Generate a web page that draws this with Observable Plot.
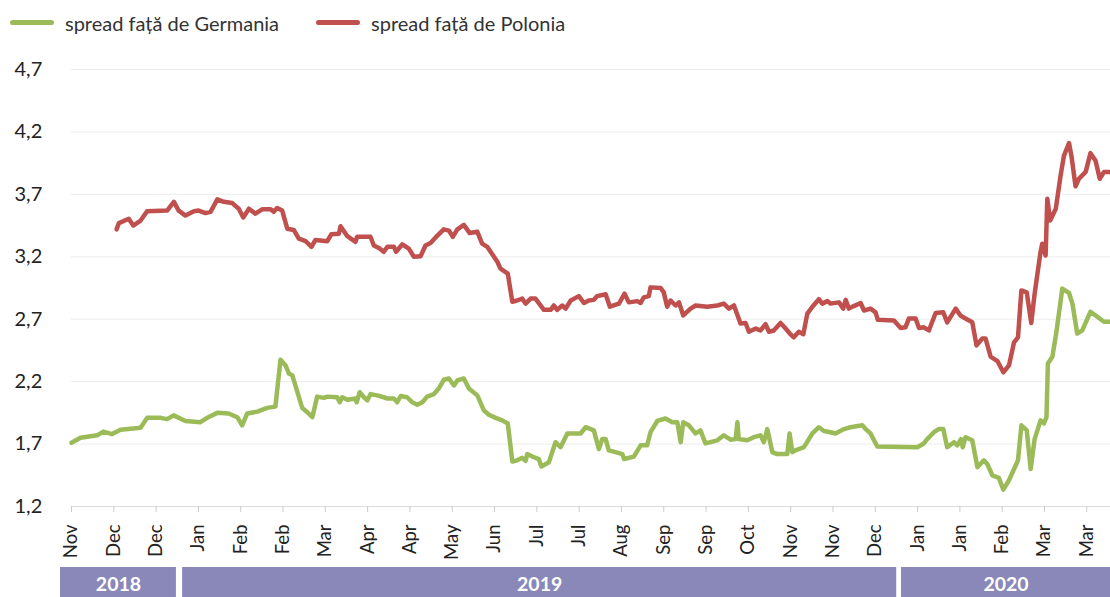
<!DOCTYPE html>
<html><head><meta charset="utf-8">
<script src="https://cdn.jsdelivr.net/npm/d3@7"></script>
<script src="https://cdn.jsdelivr.net/npm/@observablehq/plot@0.6"></script>
<style>
body{margin:0;background:#fff;font-family:Lato,"Noto Sans",sans-serif;color:#333;}
#legend{height:48px;display:flex;align-items:center;padding-left:10px;font-size:20px;box-sizing:border-box;padding-bottom:3px;}
.sw{display:inline-block;width:44px;height:5px;border-radius:3px;margin-right:11px;}
.item{display:flex;align-items:center;margin-right:37px;}
svg{display:block;}
</style></head><body>
<div id="legend"></div>
<div id="chart"></div>
<div id="years"></div>
<script>
// tick labels (every 15 trading days)
const tickLabels = ["Nov","Dec","Dec","Jan","Feb","Feb","Mar","Apr","Apr","May","Jun","Jul","Jul","Aug","Sep","Sep","Oct","Nov","Nov","Dec","Jan","Jan","Feb","Mar","Mar"];
const yTicks = [1.2,1.7,2.2,2.7,3.2,3.7,4.2,4.7];
const seriesNames = ["spread față de Germania","spread față de Polonia"];
const seriesColors = ["#9bbb59","#c0504d"];
const years = ["2018","2019","2020"];
const yearStart = [-3.9, 39.4, 294.3];
const yearEnd = [37.2, 292.6, 368.4];

// spread față de Germania
const germT = [0,3.2,9.1,11.3,14.4,17.4,24.5,26.8,31.6,33.9,36.2,40.4,45.7,48.1,51.7,55.7,58.8,60.5,62.3,65.9,69.4,72.3,74.1,75.9,77.1,78.3,81.8,83.6,85.4,87.1,89.5,90.7,94.2,95.1,96.0,97.8,100.7,101.1,102.2,103.7,104.9,106.0,108.4,110.7,112.0,114.3,115.5,116.7,119.0,120.8,122.6,124.4,126.1,128.5,130.2,132.0,133.8,135.6,136.8,139.1,140.9,143.9,146.2,148.0,150.4,152.7,154.7,156.3,158.0,159.8,161.0,161.6,163.9,165.7,166.6,169.3,171.6,173.4,175.8,180.5,182.3,185.2,187.0,188.2,189.4,190.5,192.9,195.3,195.9,199.4,201.8,204.1,205.3,207.7,210.6,213.0,214.8,216.0,216.9,218.9,221.3,223.0,224.8,229.0,231.3,233.7,235.5,236.1,236.6,239.6,241.9,244.3,245.5,246.7,248.5,250.2,253.8,254.6,255.6,256.7,259.7,262.7,265.0,266.8,269.1,270.9,273.9,276.2,280.4,281.6,283.3,285.7,299.9,302.2,303.4,305.8,307.5,309.1,310.5,312.9,314.1,315.4,316.0,317.0,319.4,321.2,323.5,324.7,326.5,328.8,330.4,332.4,334.8,335.6,336.8,338.7,340.1,341.5,343.6,344.8,345.7,346.2,347.8,349.3,351.3,353.7,354.9,356.6,358.4,361.3,363.7,366.1,368.4];
const germV = [1.71,1.75,1.77,1.80,1.78,1.815,1.83,1.91,1.91,1.90,1.93,1.885,1.875,1.91,1.95,1.945,1.915,1.85,1.945,1.96,1.99,2.00,2.375,2.33,2.265,2.25,1.99,1.955,1.915,2.08,2.07,2.08,2.075,2.035,2.075,2.055,2.065,2.035,2.115,2.075,2.05,2.10,2.09,2.075,2.065,2.065,2.035,2.085,2.075,2.035,2.015,2.035,2.08,2.10,2.145,2.215,2.225,2.17,2.21,2.225,2.145,2.09,1.97,1.935,1.91,1.89,1.865,1.56,1.57,1.59,1.565,1.62,1.595,1.58,1.52,1.555,1.715,1.675,1.785,1.785,1.835,1.81,1.66,1.74,1.74,1.65,1.635,1.62,1.58,1.60,1.69,1.69,1.795,1.885,1.905,1.875,1.875,1.715,1.875,1.85,1.785,1.81,1.705,1.73,1.77,1.735,1.74,1.875,1.74,1.73,1.755,1.77,1.715,1.82,1.635,1.62,1.62,1.785,1.635,1.65,1.675,1.785,1.835,1.805,1.795,1.785,1.82,1.835,1.85,1.82,1.785,1.68,1.675,1.705,1.74,1.795,1.82,1.82,1.675,1.715,1.69,1.74,1.675,1.755,1.73,1.515,1.57,1.54,1.45,1.43,1.335,1.41,1.53,1.57,1.85,1.81,1.50,1.74,1.89,1.865,1.915,2.345,2.40,2.61,2.945,2.91,2.825,2.585,2.61,2.76,2.72,2.68,2.68];

// spread față de Polonia
const polT = [16.0,16.8,20.3,21.9,24.5,26.8,33.9,36.3,38.0,40.4,43.4,45.1,47.5,49.3,51.7,54.0,57.0,59.3,60.9,62.9,65.2,67.6,70.6,71.7,72.9,74.7,76.5,78.8,80.6,83.0,85.1,86.5,90.7,92.1,94.8,95.4,97.8,100.7,101.3,106.0,107.2,109.0,110.7,112.0,114.3,115.1,117.3,119.6,121.4,123.8,125.5,127.3,129.1,132.0,133.8,135.2,136.8,139.1,141.2,143.9,145.6,147.4,151.0,152.1,154.7,156.3,158.0,159.8,161.0,162.8,164.5,167.5,169.9,171.0,172.2,174.0,175.2,177.0,179.9,181.7,183.4,185.2,186.4,189.4,190.9,194.1,196.1,197.6,200.6,201.8,202.9,204.7,205.3,208.9,210.0,211.2,212.4,214.2,215.4,216.9,219.5,221.3,225.4,229.0,231.3,233.1,234.9,237.2,239.0,240.2,242.6,244.3,246.1,247.3,249.0,251.4,253.2,254.7,256.1,257.9,259.5,260.9,262.7,265.0,266.2,268.0,269.1,272.1,273.6,274.5,275.6,277.4,279.8,281.0,283.3,285.1,285.9,291.6,294.0,295.7,296.9,299.3,300.5,302.2,304.0,306.4,309.1,310.5,313.5,315.2,317.0,319.4,320.9,322.9,324.1,325.9,328.3,330.4,332.4,334.2,335.6,336.8,338.7,340.3,341.5,343.6,344.2,345.4,346.0,347.0,349.0,350.7,351.9,353.7,354.6,356.0,357.2,359.6,361.3,363.1,364.6,366.1,368.4];
const polV = [3.42,3.47,3.505,3.45,3.49,3.565,3.57,3.64,3.57,3.53,3.565,3.57,3.55,3.56,3.66,3.64,3.63,3.585,3.515,3.585,3.545,3.58,3.58,3.56,3.59,3.57,3.425,3.415,3.345,3.325,3.28,3.335,3.325,3.38,3.385,3.445,3.365,3.32,3.36,3.36,3.29,3.27,3.24,3.28,3.28,3.24,3.30,3.265,3.20,3.205,3.29,3.31,3.355,3.42,3.41,3.36,3.42,3.455,3.39,3.40,3.305,3.28,3.16,3.105,3.065,2.84,2.85,2.865,2.825,2.865,2.865,2.775,2.775,2.81,2.775,2.81,2.785,2.85,2.885,2.83,2.85,2.855,2.885,2.90,2.80,2.825,2.905,2.835,2.845,2.83,2.875,2.885,2.955,2.95,2.915,2.80,2.85,2.81,2.835,2.73,2.785,2.81,2.80,2.81,2.825,2.785,2.81,2.665,2.67,2.60,2.625,2.61,2.66,2.60,2.61,2.67,2.625,2.585,2.555,2.60,2.58,2.745,2.80,2.86,2.825,2.845,2.825,2.835,2.785,2.855,2.785,2.805,2.83,2.77,2.785,2.755,2.695,2.69,2.63,2.635,2.705,2.705,2.63,2.635,2.61,2.75,2.755,2.675,2.785,2.73,2.705,2.675,2.49,2.545,2.545,2.40,2.365,2.275,2.33,2.515,2.555,2.93,2.915,2.67,2.905,3.24,3.305,3.21,3.665,3.49,3.585,3.85,4.01,4.11,4.00,3.765,3.825,3.88,4.03,3.97,3.825,3.88,3.88];

// legend
const legend = document.getElementById("legend");
seriesNames.forEach((n,i)=>{
  const it = document.createElement("div"); it.className="item";
  it.innerHTML = `<span class="sw" style="background:${seriesColors[i]}"></span><span>${n}</span>`;
  legend.appendChild(it);
});

const xDomain = [0, 368.4];
const W = 1110;
const fmt = d => d.toFixed(1).replace(".", ",");

const chart = Plot.plot({
  width: W, height: 519,
  marginTop: 21, marginBottom: 61, marginLeft: 71, marginRight: 0,
  style: {fontFamily: "Lato, 'Noto Sans', sans-serif", background: "#fff", overflow: "visible"},
  x: {domain: xDomain},
  y: {domain: [1.2, 4.7]},
  marks: [
    Plot.gridY(yTicks.slice(1), {stroke: "#ececec", strokeOpacity: 1}),
    Plot.ruleY([1.2], {stroke: "#dcdcdc"}),
    Plot.axisY(yTicks, {tickSize: 0, tickPadding: 0, textAnchor: "start", dx: -57, tickFormat: fmt, fontSize: 20, fill: "#222", label: null}),
    Plot.axisX(tickLabels.map((d,i)=>i*15), {tickRotate: -90, tickSize: 6, tickPadding: 12, stroke: "#cccccc", fill: "#222", fontSize: 18.5, label: null, tickFormat: d => tickLabels[Math.round(d/15)]}),
    Plot.line(germV, {x: germT, y: germV, stroke: seriesColors[0], strokeWidth: 4.5, strokeLinejoin: "round", strokeLinecap: "round"}),
    Plot.line(polV, {x: polT, y: polV, stroke: seriesColors[1], strokeWidth: 4.5, strokeLinejoin: "round", strokeLinecap: "round"})
  ]
});
document.getElementById("chart").appendChild(chart);

const yb = Plot.plot({
  width: W, height: 30,
  marginTop: 0, marginBottom: 0, marginLeft: 71, marginRight: 0,
  style: {fontFamily: "Lato, 'Noto Sans', sans-serif", overflow: "visible"},
  x: {domain: xDomain, axis: null},
  marks: [
    Plot.rect(years, {x1: yearStart, x2: yearEnd, fill: "#8988b9"}),
    Plot.text(years, {x: years.map((d,i)=>(yearStart[i]+yearEnd[i])/2), text: d=>d, fill: "#fff", fontWeight: "bold", fontSize: 19.5, frameAnchor: "middle", dy: 2})
  ]
});
document.getElementById("years").appendChild(yb);
</script>
</body></html>
